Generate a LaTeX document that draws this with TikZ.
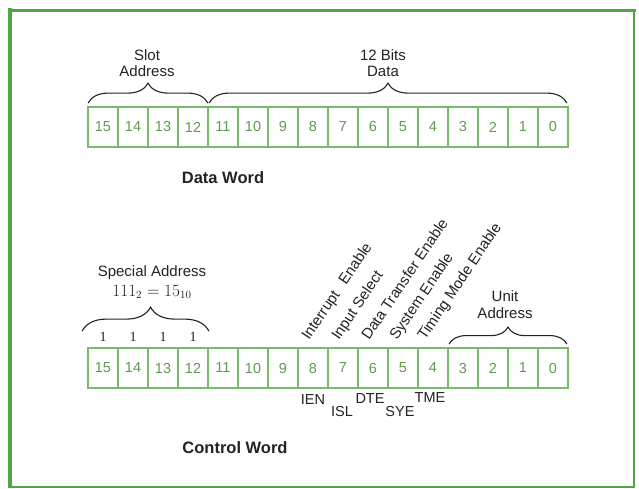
\documentclass[tikz,border=0pt]{standalone}
\usepackage{fontspec}
\setsansfont{Liberation Sans}
\newfontfamily\serifnum{Liberation Serif}
\usetikzlibrary{decorations.pathreplacing}
\definecolor{frameGreen}{RGB}{78,168,68}
\definecolor{cellGreen}{RGB}{120,186,105}
\definecolor{digitGreen}{RGB}{95,155,80}
\definecolor{ink}{RGB}{35,35,35}
\tikzset{
  cell/.style={draw=cellGreen, line width=1.8pt, minimum width=30pt, minimum height=40pt,
    inner sep=0pt, text=digitGreen, font=\sffamily\fontsize{14.5}{15}\selectfont},
  lbl/.style={text=ink, font=\sffamily\fontsize{15}{16.5}\selectfont, align=center, inner sep=0pt},
  title/.style={text=ink, font=\sffamily\bfseries\fontsize{16.5}{18}\selectfont, inner sep=0pt},
  rot/.style={text=ink, font=\sffamily\fontsize{15}{16}\selectfont, rotate=56, anchor=base west, inner sep=0pt},
  abbr/.style={text=ink, font=\sffamily\fontsize{14.5}{16}\selectfont, inner sep=0pt},
  bracestyle/.style={draw=ink, line width=1.1pt, decorate},
  one/.style={text=ink, font=\serifnum\fontsize{14}{15}\selectfont, inner sep=0pt}
}
\begin{document}
\begin{tikzpicture}[x=1pt,y=-1pt]
\useasboundingbox (0,0) rectangle (639,488);
\fill[white] (0,0) rectangle (639,488);
% frame
\draw[frameGreen, line width=2pt] (10,10) rectangle (634,487);
\draw[frameGreen, line width=4pt] (10,8) -- (10,488);
\draw[frameGreen, line width=3pt] (8,10) -- (636,10);

% data word cells
\foreach \b [count=\i from 0] in {15,14,...,0}
  \node[cell] (d\b) at ({103+30*\i},127) {\b};
% control word cells
\foreach \b [count=\i from 0] in {15,14,...,0}
  \node[cell] (c\b) at ({103+30*\i},368) {\b};

% data word braces and labels
\draw[bracestyle, decoration={brace, amplitude=20pt}]
  ([yshift=3pt,xshift=1pt]d15.north west) -- ([yshift=3pt,xshift=-1pt]d12.north east);
\draw[bracestyle, decoration={brace, amplitude=20pt}]
  ([yshift=3pt,xshift=2pt]d11.north west) -- ([yshift=3pt,xshift=-2pt]d0.north east);
\node[lbl] (slot) at (147,63) {Slot\\Address};
\node[lbl] (bits) at (383,63) {12 Bits\\Data};
\node[title] (dw) at (223,178) {Data Word};

% control word braces and labels
\draw[bracestyle, decoration={brace, amplitude=24pt, aspect=0.54}]
  ([yshift=16pt,xshift=-5pt]c15.north west) -- ([yshift=16pt]c12.north east);
\foreach \b in {15,14,13,12}
  \node[one] (one\b) at ([yshift=31pt]c\b.center) {1};
\node[lbl] (spec) at (152,273) {Special Address};
\node[text=ink, inner sep=0pt, font=\fontsize{16}{18}\selectfont] (val) at (152,292) {$111_2=15_{10}$};

\draw[bracestyle, decoration={brace, amplitude=17pt}]
  ([yshift=3pt,xshift=2pt]c3.north west) -- ([yshift=3pt,xshift=-2pt]c0.north east);
\node[lbl] (unit) at (505,304.5) {Unit\\Address};

\node[rot] (ienl) at ([xshift=-4pt,yshift=6pt]c8.north) {Interrupt\hspace{0.7em}Enable};
\node[rot] (isll) at ([xshift=-4pt,yshift=6pt]c7.north) {Input Select};
\node[rot] (dtel) at ([xshift=-4pt,yshift=6pt]c6.north) {Data Transfer Enable};
\node[rot] (syel) at ([xshift=-6pt,yshift=6pt]c5.north) {System Enable};
\node[rot] (tmel) at ([xshift=-8pt,yshift=6pt]c4.north) {Timing Mode Enable};

\node[abbr] (ien) at (313,400) {IEN};
\node[abbr] (isl) at (342,411) {ISL};
\node[abbr] (dte) at (370,399) {DTE};
\node[abbr] (sye) at (400,411) {SYE};
\node[abbr] (tme) at (430,398) {TME};

\node[title] (cw) at (235,448) {Control Word};
\end{tikzpicture}
\end{document}
